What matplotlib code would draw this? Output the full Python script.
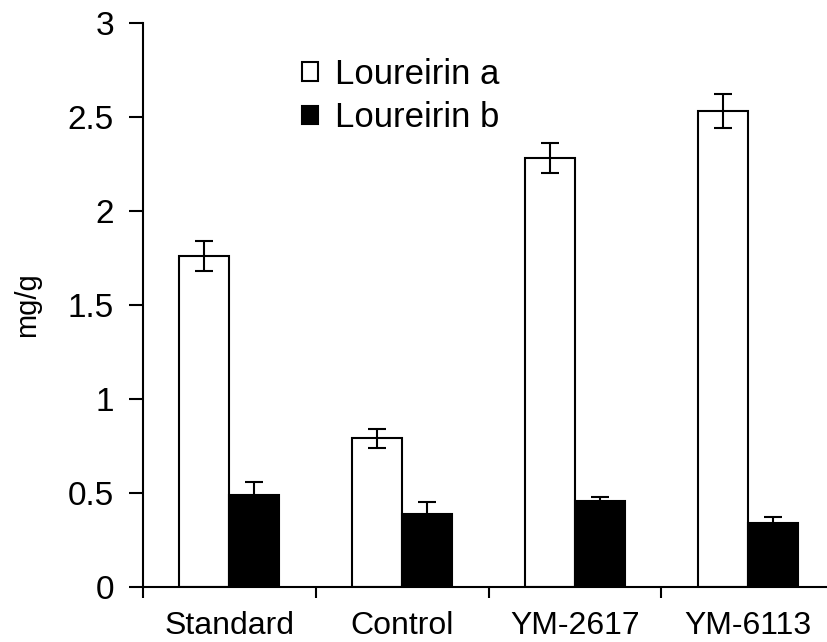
import matplotlib
matplotlib.use("Agg")
import matplotlib.pyplot as plt
import numpy as np

categories = ["Standard", "Control", "YM-2617", "YM-6113"]
loureirin_a = [1.76, 0.79, 2.28, 2.53]
loureirin_a_err = [0.08, 0.05, 0.08, 0.09]
loureirin_b = [0.49, 0.39, 0.46, 0.34]
loureirin_b_err = [0.07, 0.06, 0.02, 0.03]
yticks = [0, 0.5, 1, 1.5, 2, 2.5, 3]
ytick_labels = ["0", "0.5", "1", "1.5", "2", "2.5", "3"]

plt.rcParams['font.family'] = ['Liberation Sans', 'DejaVu Sans']

W, H = 827, 642
fig = plt.figure(figsize=(W/100, H/100), dpi=100)
ax = fig.add_axes([143/W, (H-587)/H, (834-143)/W, (587-23)/H])

x = np.arange(len(categories))
bw = 0.29
ax.bar(x - bw/2, loureirin_a, bw, color="white", edgecolor="black", linewidth=1.5,
       label="Loureirin a", zorder=2)
ax.bar(x + bw/2, loureirin_b, bw, color="black", edgecolor="black", linewidth=1.5,
       label="Loureirin b", zorder=2)
ax.errorbar(x - bw/2, loureirin_a, yerr=loureirin_a_err, fmt="none", ecolor="black",
            elinewidth=1.5, capsize=6.5, capthick=1.5, zorder=3)
ax.errorbar(x + bw/2, loureirin_b, yerr=loureirin_b_err, fmt="none", ecolor="black",
            elinewidth=1.5, capsize=6.5, capthick=1.5, zorder=3)

ax.set_xlim(-0.5, 3.5)
ax.set_ylim(0, 3)
ax.set_yticks(yticks)
ax.set_yticklabels(ytick_labels)
ax.set_xticks(x)
ax.set_xticklabels(categories)
ax.set_xticks(np.arange(-0.5, 3.5, 1.0), minor=True)

for s in ["top", "right"]:
    ax.spines[s].set_visible(False)
for s in ["left", "bottom"]:
    ax.spines[s].set_linewidth(1.5)
    ax.spines[s].set_capstyle("projecting")

ax.tick_params(axis="y", direction="out", length=10, width=1.5, pad=11, labelsize=24)
ax.tick_params(axis="x", which="major", length=0, pad=17, labelsize=23)
ax.tick_params(axis="x", which="minor", direction="out", length=8, width=1.5)

ax.set_ylabel("mg/g", fontsize=21, labelpad=19)

leg = ax.legend(loc="upper left", bbox_to_anchor=((288-143)/(834-143), (587-44)/(587-23)),
                frameon=False, fontsize=25, handlelength=0.46, handleheight=0.46,
                handletextpad=0.5, labelspacing=0.3, borderaxespad=0)

fig.savefig("out.png", dpi=100)
